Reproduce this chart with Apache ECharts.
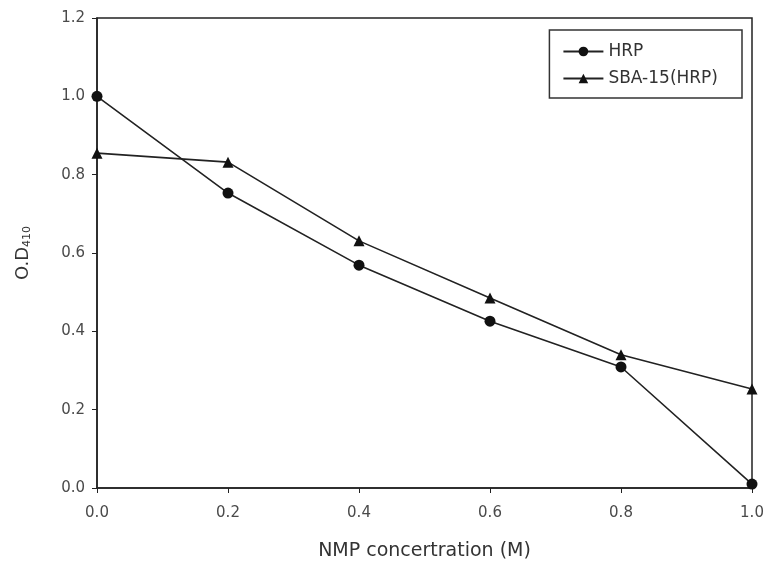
<!DOCTYPE html>
<html><head><meta charset="utf-8">
<script src="https://cdn.jsdelivr.net/npm/echarts@6/dist/echarts.min.js"></script>
<style>html,body{margin:0;padding:0;background:#fff}#c{width:764px;height:566px}</style>
</head><body><div id="c"></div>
<script>
const xValues = [0.0, 0.2, 0.4, 0.6, 0.8, 1.0];
const hrp = [1.0, 0.753, 0.569, 0.426, 0.309, 0.01];
const sba = [0.855, 0.832, 0.631, 0.485, 0.340, 0.253];
const seriesNames = ['HRP', 'SBA-15(HRP)'];

const chart = echarts.init(document.getElementById('c'));
const font = 'DejaVu Sans, sans-serif';
chart.setOption({
  animation: false,
  backgroundColor: '#fff',
  grid: {left: 97, right: 12, top: 18, bottom: 78, show: true, borderColor: '#222', borderWidth: 1.5,
         containLabel: false, outerBoundsMode: 'none'},
  legend: {
    orient: 'vertical', right: 22, top: 30, data: seriesNames,
    borderColor: '#333', borderWidth: 1.5, padding: [13, 24, 11, 13],
    itemWidth: 40, itemHeight: 12, itemGap: 10,
    textStyle: {fontFamily: font, fontSize: 17, color: '#333'}
  },
  xAxis: {
    type: 'value', min: 0, max: 1, interval: 0.2,
    name: 'NMP concertration (M)', nameLocation: 'middle', nameGap: 54,
    nameTextStyle: {fontFamily: font, fontSize: 19, color: '#333'},
    axisLine: {lineStyle: {color: '#222', width: 1.5}},
    axisTick: {show: true, length: 5, lineStyle: {color: '#222'}},
    axisLabel: {fontFamily: font, fontSize: 15, color: '#4a4a4a', margin: 18, formatter: v => v.toFixed(1)},
    splitLine: {show: false}
  },
  yAxis: {
    type: 'value', min: 0, max: 1.2, interval: 0.2,
    name: 'O.D{sub|410}', nameLocation: 'middle', nameGap: 64,
    nameTextStyle: {fontFamily: font, fontSize: 18, color: '#333',
      rich: {sub: {fontFamily: font, fontSize: 11, color: '#333', verticalAlign: 'bottom', padding: [9, 0, 0, 0]}}},
    axisLine: {lineStyle: {color: '#222', width: 1.5}},
    axisTick: {show: true, length: 5, lineStyle: {color: '#222'}},
    axisLabel: {fontFamily: font, fontSize: 15, color: '#4a4a4a', margin: 12, formatter: v => v.toFixed(1)},
    splitLine: {show: false}
  },
  series: [
    {name: seriesNames[0], type: 'line', data: xValues.map((x, i) => [x, hrp[i]]),
     symbol: 'circle', symbolSize: 11, itemStyle: {color: '#111'}, lineStyle: {color: '#222', width: 1.6}},
    {name: seriesNames[1], type: 'line', data: xValues.map((x, i) => [x, sba[i]]),
     symbol: 'triangle', symbolSize: 11, itemStyle: {color: '#111'}, lineStyle: {color: '#222', width: 1.6}}
  ]
});
</script></body></html>
